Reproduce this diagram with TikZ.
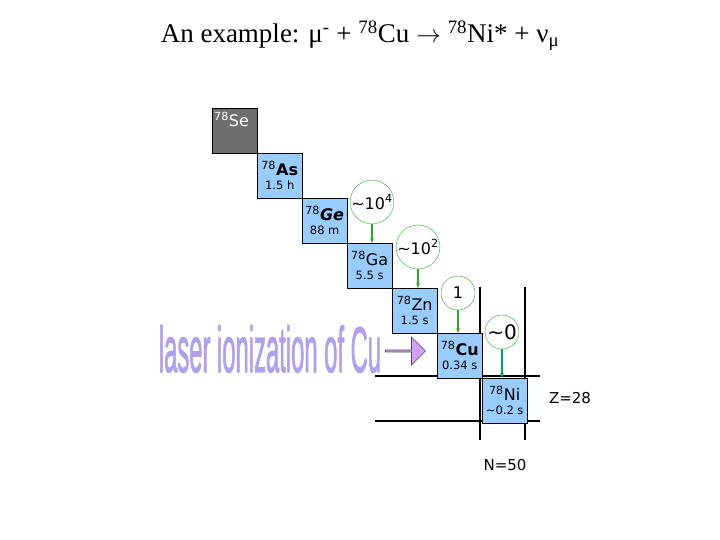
\documentclass[tikz,border=0pt]{standalone}
\usepackage{fontspec}
\setmainfont{Liberation Serif}
\newfontfamily\lab{DejaVu Sans}
\newfontfamily\bigfnt{Liberation Sans}[FakeBold=2]
\newcommand\tmf{\fontsize{11.5}{12}\selectfont}
\usetikzlibrary{arrows.meta,shapes.arrows}
\definecolor{boxb}{RGB}{153,204,255}
\definecolor{seg}{RGB}{110,110,110}
\definecolor{grn}{RGB}{40,170,40}
\definecolor{lav}{RGB}{176,160,240}
\definecolor{vio}{RGB}{210,160,250}
\begin{document}
\begin{tikzpicture}[x=1pt,y=-1pt,
 nuc/.style={draw=black,fill=boxb,minimum size=45pt,inner sep=0pt,anchor=north west,font=\lab\fontsize{16}{17}\selectfont,align=center},
 circ/.style={circle,draw=grn,fill=white,minimum size=34pt,inner sep=0pt,font=\lab\fontsize{16}{17}\selectfont},
 gar/.style={-{Stealth[length=5pt]},draw=grn,line width=1.3pt},
 grid/.style={line width=1.5pt}]
\useasboundingbox (0,0) rectangle (720,540);
\node[font=\fontsize{27}{30}\selectfont] (title) at (360,36) {An example: μ\textsuperscript{-} + \textsuperscript{78}Cu \textbf{$\rightarrow$} \textsuperscript{78}Ni* + ν\textsubscript{μ}};
\coordinate (h1a) at (375,376); \coordinate (h1b) at (540,376);
\coordinate (h2a) at (375,421); \coordinate (h2b) at (540,421);
\coordinate (v1a) at (480,287); \coordinate (v1b) at (480,440);
\coordinate (v2a) at (525,287); \coordinate (v2b) at (525,440);
\draw[grid] (h1a)--(h1b); \draw[grid] (h2a)--(h2b);
\draw[grid] (v1a)--(v1b); \draw[grid] (v2a)--(v2b);
\node[nuc,fill=seg] (se) at (212,108) {};
\node[anchor=north west,text=white,font=\lab\fontsize{16}{17}\selectfont,inner sep=1pt] (setx) at (213,111) {\textsuperscript{78}Se};
\node[nuc] (as) at (257,153) {\textsuperscript{78}\textbf{As}\\[-3pt]{\tmf 1.5 h}};
\node[nuc] (ge) at (302,198) {\textsuperscript{78}\textbf{\textit{Ge}}\\[-3pt]{\tmf 88 m}};
\node[nuc] (ga) at (347,243) {\textsuperscript{78}Ga\\[-3pt]{\tmf 5.5 s}};
\node[nuc] (zn) at (392,288) {\textsuperscript{78}Zn\\[-3pt]{\tmf 1.5 s}};
\node[nuc] (cu) at (437,333) {\textsuperscript{78}\textbf{Cu}\\[-3pt]{\tmf 0.34 s}};
\node[nuc] (ni) at (482,378) {\textsuperscript{78}Ni\\[-3pt]{\tmf \textasciitilde0.2 s}};
\node[circ] (c1) at (372,202) {\textasciitilde10\textsuperscript{4}};
\node[circ] (c2) at (418,247) {\textasciitilde10\textsuperscript{2}};
\node[circ] (c3) at (458,293) {1};
\node[circ,font=\lab\fontsize{20}{21}\selectfont] (c4) at (502,332) {\textasciitilde0};
\draw[gar] (c1.south) -- (ga.north west -| c1.south);
\draw[gar] (c2.south) -- (zn.north west -| c2.south);
\draw[gar] (c3.south) -- (cu.north west -| c3.south);
\draw[gar,draw=teal!70!green] (c4.south) -- (ni.north west -| c4.south);
\node[text=lav,font=\bigfnt\fontsize{34}{36}\selectfont,inner sep=0pt,xscale=0.7,yscale=1.9] (laser) at (270,349) {laser ionization of Cu};
\node[single arrow,draw=black!70,fill=vio,minimum height=40pt,minimum width=28pt,single arrow head extend=4pt,inner sep=0pt,line width=0.6pt] (arr) at (405,351) {};
\node[font=\lab\fontsize{15}{16}\selectfont] (z) at (570,398) {Z=28};
\node[font=\lab\fontsize{15}{16}\selectfont] (n) at (505,465) {N=50};
\end{tikzpicture}
\end{document}
